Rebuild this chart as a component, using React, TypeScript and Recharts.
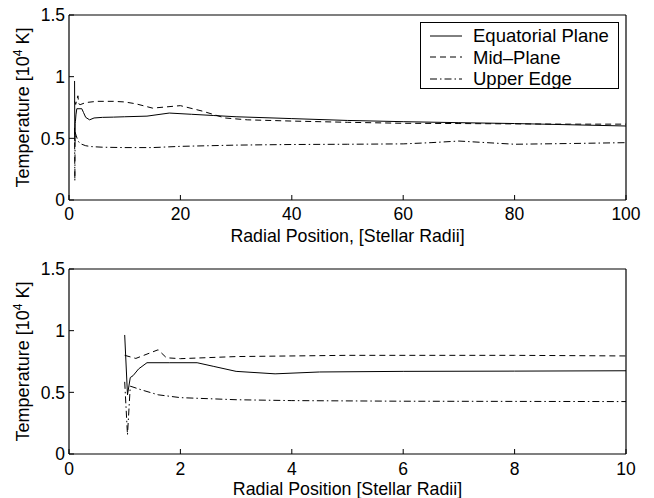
import React from 'react';
import { LineChart, Line, XAxis, YAxis, Legend } from 'recharts';

const FONT = '"Liberation Sans", Arial, Helvetica, sans-serif';

// Radial position [stellar radii] and temperature [10^4 K] for each series
const eqX = [1.0, 1.05, 1.1, 1.15, 1.25, 1.4, 1.8, 2.3, 2.6, 3.0, 3.7, 4.5, 6, 8, 10, 14, 18, 22, 26, 30, 40, 50, 60, 70, 80, 90, 100];
const eqY = [0.965, 0.48, 0.62, 0.635, 0.69, 0.74, 0.74, 0.74, 0.71, 0.67, 0.65, 0.665, 0.67, 0.672, 0.675, 0.68, 0.705, 0.695, 0.685, 0.675, 0.66, 0.645, 0.635, 0.627, 0.62, 0.61, 0.6];

const midX = [1.0, 1.2, 1.6, 1.75, 2.0, 3.0, 5, 8, 10, 12, 15, 20, 24, 28, 32, 40, 50, 60, 70, 80, 90, 100];
const midY = [0.8, 0.775, 0.845, 0.78, 0.773, 0.79, 0.8, 0.8, 0.795, 0.78, 0.745, 0.765, 0.72, 0.665, 0.65, 0.64, 0.63, 0.622, 0.62, 0.617, 0.615, 0.615];

const upX = [1.0, 1.05, 1.1, 1.3, 1.6, 2.0, 3.0, 4, 6, 10, 15, 20, 25, 30, 40, 50, 60, 65, 70, 75, 80, 90, 100];
const upY = [0.585, 0.155, 0.55, 0.52, 0.48, 0.457, 0.44, 0.433, 0.428, 0.425, 0.425, 0.435, 0.44, 0.445, 0.45, 0.452, 0.455, 0.465, 0.478, 0.465, 0.452, 0.458, 0.465];

const seriesNames = ['Equatorial Plane', 'Mid\u2013Plane', 'Upper Edge'];
const yTicks = [0, 0.5, 1, 1.5];
const topXTicks = [0, 20, 40, 60, 80, 100];
const bottomXTicks = [0, 2, 4, 6, 8, 10];

const toPoints = (xs: number[], ys: number[]) => xs.map((x, i) => ({ x, y: ys[i] }));
const eqData = toPoints(eqX, eqY);
const midData = toPoints(midX, midY);
const upData = toPoints(upX, upY);

const dashes: Record<string, string | undefined> = {
  [seriesNames[0]]: undefined,
  [seriesNames[1]]: '6 4',
  [seriesNames[2]]: '7 3 1.5 3',
};

const tickStyle = { fill: '#000', fontSize: 17.5, fontFamily: FONT };

const YLabel = (props: any) => {
  const vb = props.viewBox || {};
  const cx = 29;
  const cy = (vb.y ?? 0) + (vb.height ?? 0) / 2;
  return (
    <text x={cx} y={cy} transform={`rotate(-90 ${cx} ${cy})`} textAnchor="middle" fontSize={18} fontFamily={FONT} fill="#000">
      Temperature [10<tspan dy={-7} fontSize={12}>4</tspan><tspan dy={7}> K]</tspan>
    </text>
  );
};

const makeXLabel = (text: string, fromBottom: number) => (props: any) => {
  const vb = props.viewBox || {};
  const cx = (vb.x ?? 0) + (vb.width ?? 0) / 2;
  const cy = (vb.y ?? 0) + (vb.height ?? 0) - fromBottom;
  return (
    <text x={cx} y={cy} textAnchor="middle" fontSize={17.8} fontFamily={FONT} fill="#000">
      {text}
    </text>
  );
};

const LegendBox = (props: any) => {
  const payload = props.payload || [];
  return (
    <div
      style={{
        border: '1px solid #000',
        background: '#fff',
        width: 199,
        height: 67,
        boxSizing: 'border-box',
        paddingTop: 2,
        fontFamily: FONT,
        fontSize: 18.5,
        color: '#000',
        lineHeight: '21px',
      }}
    >
      {payload.map((p: any) => (
        <div key={p.value} style={{ display: 'flex', alignItems: 'center', height: 21.5 }}>
          <svg width={52} height={10} style={{ flex: 'none', display: 'block' }}>
            <line x1={9} x2={41} y1={5} y2={5} stroke="#000" strokeWidth={1} strokeDasharray={dashes[p.value]} />
          </svg>
          <span style={{ whiteSpace: 'nowrap' }}>{p.value}</span>
        </div>
      ))}
    </div>
  );
};

type PanelProps = {
  top: number;
  xMax: number;
  xTicks: number[];
  xHeight: number;
  xLabel: string;
  xLabelFromBottom: number;
  tickGap: number;
  showLegend: boolean;
};

const TICK = 5;

const Panel = ({ top, xMax, xTicks, xHeight, xLabel, xLabelFromBottom, tickGap, showLegend }: PanelProps) => (
  <LineChart width={654} height={249} margin={{ top, right: 28, left: 0, bottom: 0 }}>
    <XAxis
      xAxisId="x"
      type="number"
      dataKey="x"
      domain={[0, xMax]}
      ticks={xTicks}
      allowDataOverflow
      height={xHeight}
      tickLine={{ stroke: '#000' }}
      tickSize={-TICK}
      tickMargin={TICK + tickGap}
      axisLine={{ stroke: '#000', strokeWidth: 1.2 }}
      tick={tickStyle}
      label={makeXLabel(xLabel, xLabelFromBottom)}
    />
    <XAxis
      xAxisId="xtop"
      type="number"
      domain={[0, xMax]}
      ticks={xTicks}
      allowDataOverflow
      orientation="top"
      mirror
      height={1}
      tick={false}
      tickSize={TICK}
      tickLine={{ stroke: '#000' }}
      axisLine={{ stroke: '#000', strokeWidth: 1.2 }}
    />
    <YAxis
      yAxisId="y"
      type="number"
      domain={[0, 1.5]}
      ticks={yTicks}
      allowDataOverflow
      width={69}
      tickLine={{ stroke: '#000' }}
      tickSize={-TICK}
      tickMargin={TICK + 4}
      axisLine={{ stroke: '#000', strokeWidth: 1.2 }}
      tick={tickStyle}
      label={YLabel}
    />
    <YAxis
      yAxisId="yright"
      type="number"
      domain={[0, 1.5]}
      ticks={yTicks}
      allowDataOverflow
      orientation="right"
      mirror
      width={1}
      tick={false}
      tickSize={TICK}
      tickLine={{ stroke: '#000' }}
      axisLine={{ stroke: '#000', strokeWidth: 1.2 }}
    />
    <Line xAxisId="x" yAxisId="y" data={eqData} dataKey="y" name={seriesNames[0]} type="linear" stroke="#000" strokeWidth={1} dot={false} activeDot={false} isAnimationActive={false} />
    <Line xAxisId="x" yAxisId="y" data={midData} dataKey="y" name={seriesNames[1]} type="linear" stroke="#000" strokeWidth={1} strokeDasharray={dashes[seriesNames[1]]} dot={false} activeDot={false} isAnimationActive={false} />
    <Line xAxisId="x" yAxisId="y" data={upData} dataKey="y" name={seriesNames[2]} type="linear" stroke="#000" strokeWidth={1} strokeDasharray={dashes[seriesNames[2]]} dot={false} activeDot={false} isAnimationActive={false} />
    {showLegend && (
      <Legend
        layout="vertical"
        align="center"
        verticalAlign="middle"
        wrapperStyle={{ left: 420, top: 22, width: 199, height: 67 }}
        content={LegendBox}
      />
    )}
  </LineChart>
);

export default function App() {
  return (
    <div style={{ position: 'absolute', left: 0, top: 0, width: 654, height: 498, background: '#fff' }}>
      <Panel top={15} xMax={100} xTicks={topXTicks} xHeight={49} xLabel="Radial Position, [Stellar Radii]" xLabelFromBottom={7} tickGap={8} showLegend />
      <Panel top={20} xMax={10} xTicks={bottomXTicks} xHeight={44} xLabel="Radial Position [Stellar Radii]" xLabelFromBottom={3.5} tickGap={8.5} showLegend={false} />
    </div>
  );
}
